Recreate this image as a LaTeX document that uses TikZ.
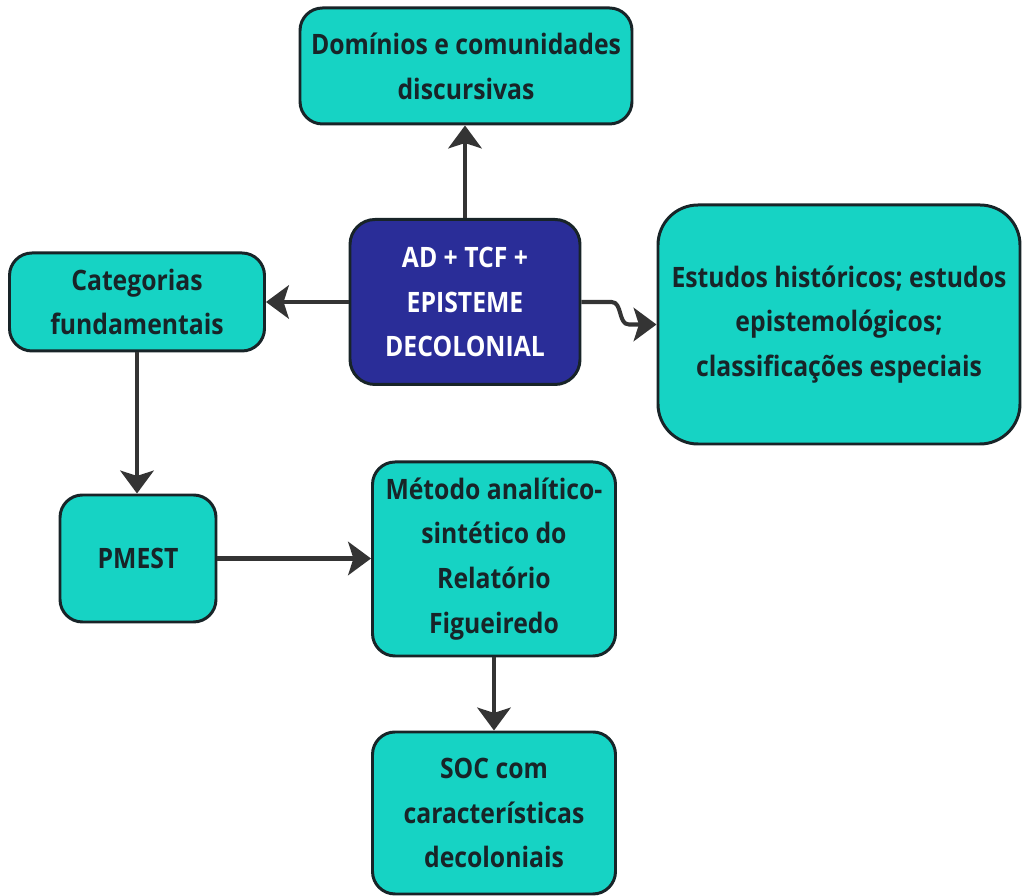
\documentclass[tikz,border=0pt]{standalone}
\usepackage{fontspec}
\setmainfont[FakeStretch=0.88]{Open Sans}
\usetikzlibrary{arrows.meta}
\definecolor{boxteal}{RGB}{22,211,196}
\definecolor{boxblue}{RGB}{42,45,152}
\definecolor{boxline}{RGB}{24,36,40}
\definecolor{arrowgray}{RGB}{52,52,52}
\tikzset{
  box/.style = {draw = boxline, line width = 1.7pt, fill = boxteal, rounded corners = 0.45cm,
    align = center, text = boxline, font = \fontsize{16}{25.5}\selectfont\bfseries, inner sep = 0pt},
  conn/.style = {draw = arrowgray, line width = 2.3pt, -{Stealth[length=13pt,width=19pt,inset=3pt]}}
}
\begin{document}
\begin{tikzpicture}
\useasboundingbox (0,0) rectangle (20.48,17.92);
\node[box, minimum width = 6.64cm, minimum height = 2.32cm] (dom) at (9.32,16.6) {Domínios e comunidades\\discursivas};
\node[box, fill = boxblue, text = white, minimum width = 4.6cm, minimum height = 3.3cm, rounded corners = 0.5cm] (core) at (9.30,11.88) {AD + TCF +\\EPISTEME\\DECOLONIAL};
\node[box, minimum width = 7.24cm, minimum height = 4.78cm, rounded corners = 0.8cm] (est) at (16.78,11.43) {Estudos históricos; estudos\\epistemológicos;\\classificações especiais};
\node[box, minimum width = 5.1cm, minimum height = 1.96cm] (cat) at (2.74,11.88) {Categorias\\fundamentais};
\node[box, minimum width = 3.12cm, minimum height = 2.54cm] (pmest) at (2.76,6.75) {PMEST};
\node[box, minimum width = 4.86cm, minimum height = 3.88cm] (met) at (9.88,6.74) {Método analítico-\\sintético do\\Relatório\\Figueiredo};
\node[box, minimum width = 4.86cm, minimum height = 3.24cm] (soc) at (9.88,1.66) {SOC com\\características\\decoloniais};
% connectors
\draw[conn] (core.north) -- (core.north |- dom.south);
\draw[conn] (core.west) -- (cat.east);
\draw[conn] (core.east) -- ++(0.6,0) to[out=0,in=180] ([xshift=-0.55cm]est.west) -- (est.west);
\draw[conn] (cat.south) -- (cat.south |- pmest.north);
\draw[conn] (pmest.east) -- (pmest.east -| met.west);
\draw[conn] (met.south) -- (soc.north);
\end{tikzpicture}
\end{document}
